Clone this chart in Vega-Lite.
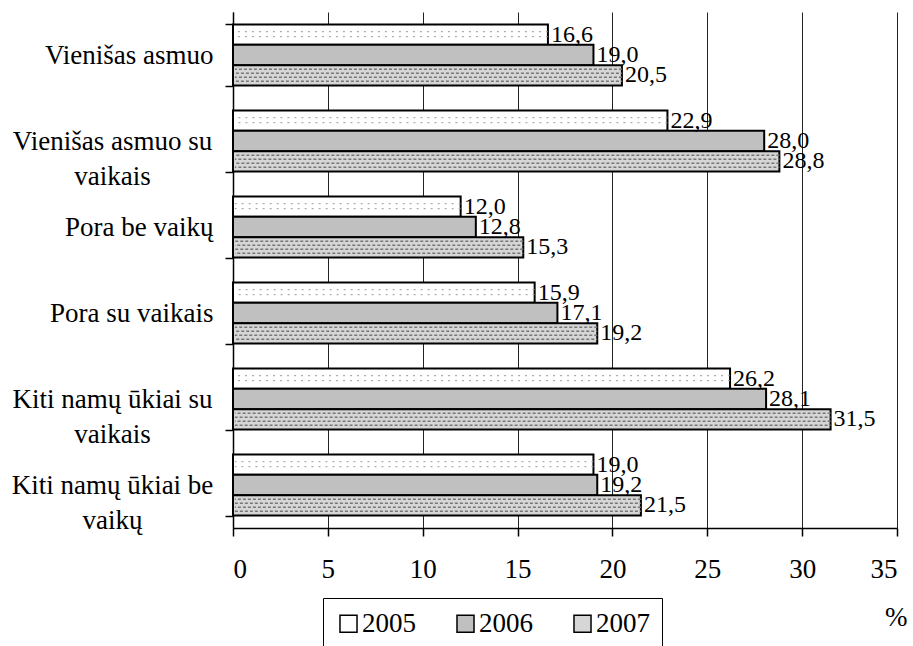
{
  "$schema": "https://vega.github.io/schema/vega-lite/v6.json",
  "width": 664,
  "height": 516,
  "autosize": {"type": "none"},
  "padding": {"left": 233, "top": 12, "right": 16, "bottom": 118},
  "background": "white",
  "config": {
    "locale": {"number": {"decimal": ",", "thousands": " ", "grouping": [3], "currency": ["", ""]}},
    "font": "Liberation Serif, Times New Roman, serif",
    "view": {"stroke": null},
    "axis": {
      "labelFont": "Liberation Serif, Times New Roman, serif",
      "labelFontSize": 27,
      "labelColor": "black",
      "labelLimit": 400,
      "domainColor": "black",
      "domainWidth": 1.5,
      "tickColor": "black",
      "tickWidth": 1.5,
      "tickSize": 8,
      "titleFont": "Liberation Serif, Times New Roman, serif",
      "titleColor": "black"
    }
  },
  "data": {
    "values": [
      {"category": "Vienišas asmuo", "year": "2005", "value": 16.6},
      {"category": "Vienišas asmuo", "year": "2006", "value": 19.0},
      {"category": "Vienišas asmuo", "year": "2007", "value": 20.5},
      {"category": "Vienišas asmuo su|vaikais", "year": "2005", "value": 22.9},
      {"category": "Vienišas asmuo su|vaikais", "year": "2006", "value": 28.0},
      {"category": "Vienišas asmuo su|vaikais", "year": "2007", "value": 28.8},
      {"category": "Pora be vaikų", "year": "2005", "value": 12.0},
      {"category": "Pora be vaikų", "year": "2006", "value": 12.8},
      {"category": "Pora be vaikų", "year": "2007", "value": 15.3},
      {"category": "Pora su vaikais ", "year": "2005", "value": 15.9},
      {"category": "Pora su vaikais ", "year": "2006", "value": 17.1},
      {"category": "Pora su vaikais ", "year": "2007", "value": 19.2},
      {"category": "Kiti namų ūkiai su|vaikais", "year": "2005", "value": 26.2},
      {"category": "Kiti namų ūkiai su|vaikais", "year": "2006", "value": 28.1},
      {"category": "Kiti namų ūkiai su|vaikais", "year": "2007", "value": 31.5},
      {"category": "Kiti namų ūkiai be|vaikų", "year": "2005", "value": 19.0},
      {"category": "Kiti namų ūkiai be|vaikų", "year": "2006", "value": 19.2},
      {"category": "Kiti namų ūkiai be|vaikų", "year": "2007", "value": 21.5}
    ]
  },
  "encoding": {
    "y": {
      "field": "category",
      "type": "nominal",
      "sort": null,
      "scale": {"paddingInner": 0.29, "paddingOuter": 0.145},
      "axis": {
        "title": null,
        "tickBand": "extent",
        "labelExpr": "isValid(datum.value) ? split(slice(datum.value, -1) == ' ' ? slice(datum.value, 0, -1) + '\u00a0' : datum.value, '|') : ''",
        "labelLineHeight": 35,
        "labelAlign": {"condition": {"test": "isValid(datum.value) && indexof(datum.value, '|') >= 0", "value": "center"}, "value": "right"},
        "labelPadding": {"condition": {"test": "isValid(datum.value) && indexof(datum.value, '|') >= 0", "value": 113}, "value": 12}
      }
    }
  },
  "layer": [
    {
      "mark": {"type": "bar", "stroke": "black", "strokeWidth": 2},
      "encoding": {
        "yOffset": {"field": "year", "type": "nominal", "sort": ["2005", "2006", "2007"]},
        "x": {
          "field": "value",
          "type": "quantitative",
          "scale": {"domain": [0, 35], "nice": false},
          "axis": {
            "values": [0, 5, 10, 15, 20, 25, 30, 35],
            "grid": true,
            "gridColor": "#222",
            "gridWidth": 1,
            "labelPadding": 20,
            "title": "%",
            "titleFontSize": 27,
            "titleFontWeight": "normal",
            "titleAnchor": "end",
            "titleAlign": "right",
            "titleBaseline": "alphabetic",
            "titleX": 674,
            "titleY": 97
          }
        },
        "fill": {
          "field": "year",
          "type": "nominal",
          "scale": {"domain": ["2005", "2006", "2007"], "range": ["#ffffff", "#c0c0c0", "#d6d6d6"]},
          "legend": {
            "title": null,
            "orient": "none",
            "legendX": 90,
            "legendY": 586,
            "direction": "horizontal",
            "strokeColor": "black",
            "fillColor": "white",
            "padding": 12,
            "symbolType": "square",
            "symbolSize": 290,
            "symbolStrokeColor": "black",
            "symbolStrokeWidth": 1.5,
            "symbolOpacity": 1,
            "labelFont": "Liberation Serif, Times New Roman, serif",
            "labelFontSize": 27,
            "labelColor": "black",
            "labelOffset": 0,
            "columnPadding": 36
          }
        }
      }
    },
    {
      "transform": [{"filter": "datum.year == '2005'"}],
      "mark": {"type": "rule", "yOffset": -23.3, "strokeDash": [2, 5], "color": "#999999", "strokeWidth": 1},
      "encoding": {"x": {"field": "value", "type": "quantitative"}, "x2": {"datum": 0.1}}
    },
    {
      "transform": [{"filter": "datum.year == '2005'"}],
      "mark": {"type": "rule", "yOffset": -18.3, "strokeDash": [2, 5], "color": "#999999", "strokeWidth": 1},
      "encoding": {"x": {"field": "value", "type": "quantitative"}, "x2": {"datum": 0.1}}
    },
    {
      "transform": [{"filter": "datum.year == '2007'"}],
      "mark": {"type": "rule", "yOffset": 14.3, "strokeDash": [3, 2], "color": "#777777", "strokeWidth": 1.5},
      "encoding": {"x": {"field": "value", "type": "quantitative"}, "x2": {"datum": 0.1}}
    },
    {
      "transform": [{"filter": "datum.year == '2007'"}],
      "mark": {"type": "rule", "yOffset": 18.3, "strokeDash": [3, 2], "strokeDashOffset": 2, "color": "#777777", "strokeWidth": 1.5},
      "encoding": {"x": {"field": "value", "type": "quantitative"}, "x2": {"datum": 0.1}}
    },
    {
      "transform": [{"filter": "datum.year == '2007'"}],
      "mark": {"type": "rule", "yOffset": 22.3, "strokeDash": [3, 2], "color": "#777777", "strokeWidth": 1.5},
      "encoding": {"x": {"field": "value", "type": "quantitative"}, "x2": {"datum": 0.1}}
    },
    {
      "transform": [{"filter": "datum.year == '2007'"}],
      "mark": {"type": "rule", "yOffset": 26.3, "strokeDash": [3, 2], "strokeDashOffset": 2, "color": "#777777", "strokeWidth": 1.5},
      "encoding": {"x": {"field": "value", "type": "quantitative"}, "x2": {"datum": 0.1}}
    },
    {
      "mark": {"type": "text", "align": "left", "baseline": "middle", "dx": 3, "font": "Liberation Serif, Times New Roman, serif", "fontSize": 24, "color": "black"},
      "encoding": {
        "yOffset": {"field": "year", "type": "nominal", "sort": ["2005", "2006", "2007"]},
        "x": {"field": "value", "type": "quantitative"},
        "text": {"field": "value", "type": "quantitative", "format": ".1f"}
      }
    }
  ]
}
